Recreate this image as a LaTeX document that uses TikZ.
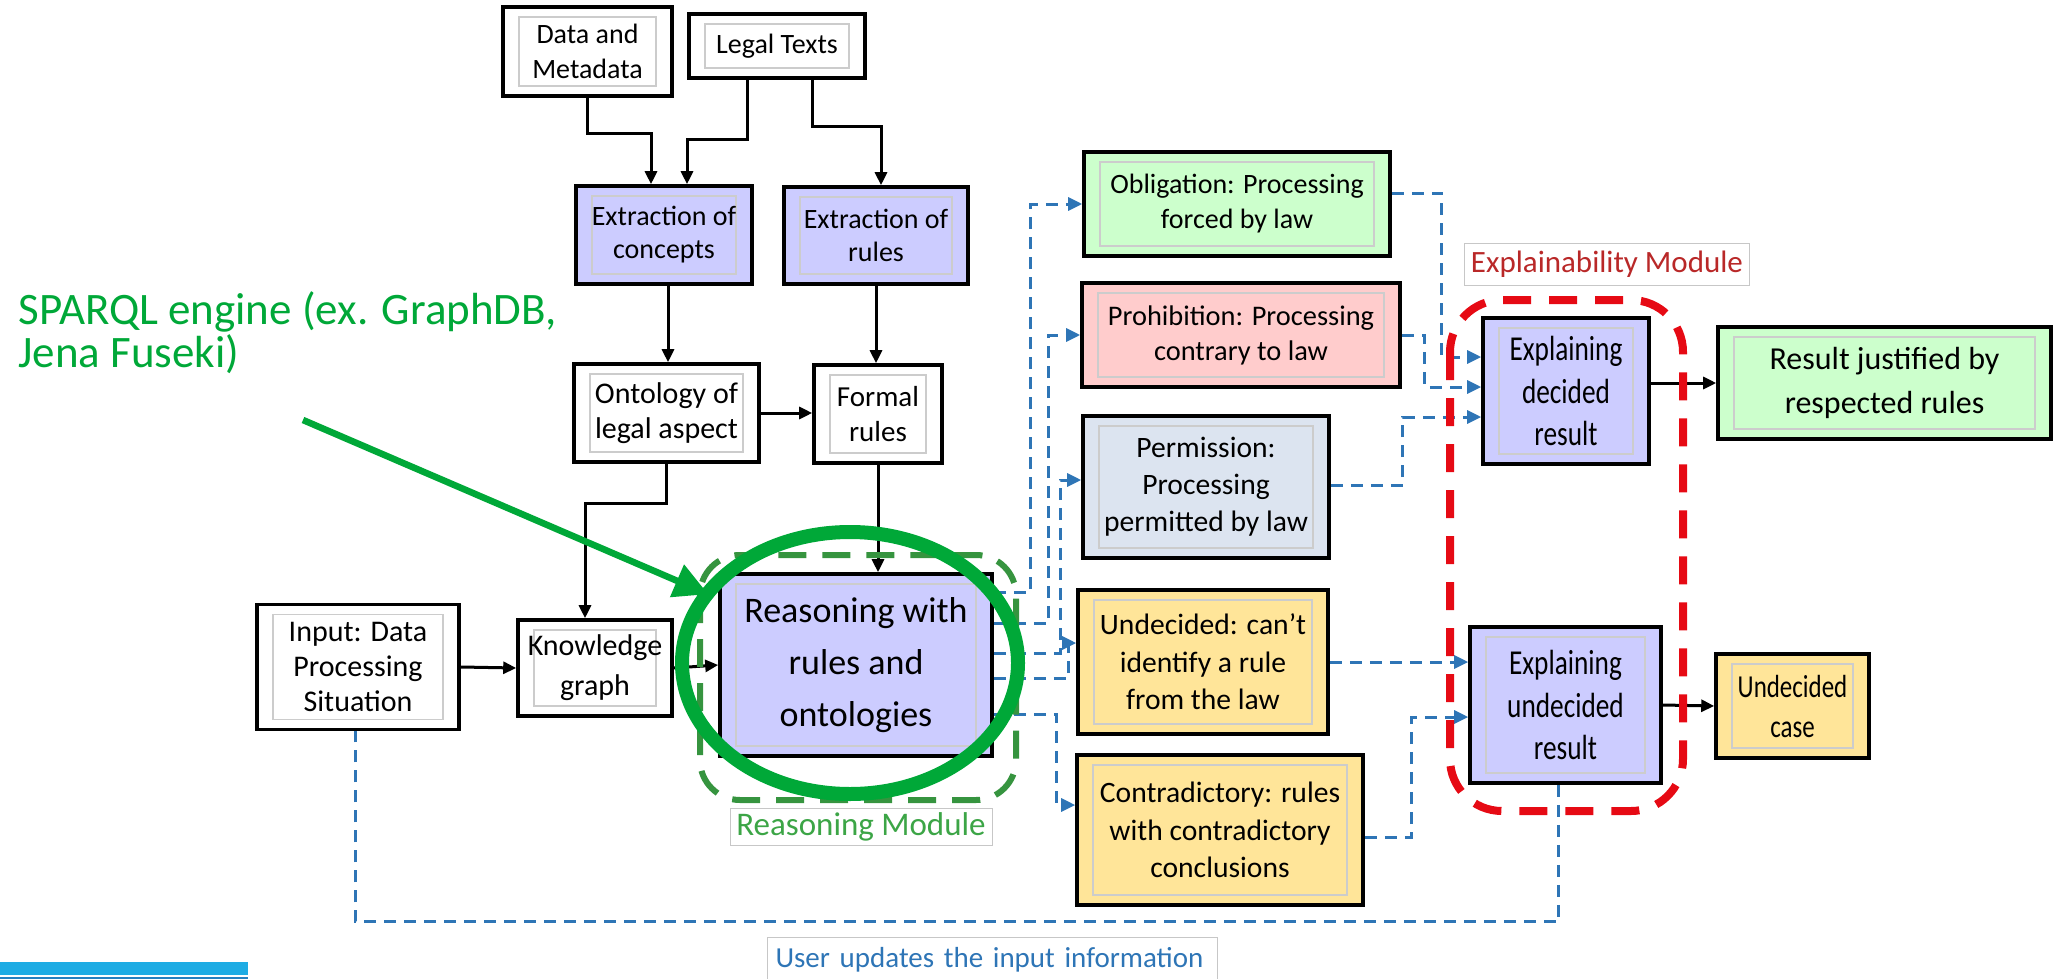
\documentclass[tikz,border=0pt]{standalone}
\usepackage{fontspec}
\setmainfont{Carlito}
\newfontfamily\condfont[FakeStretch=0.78]{Carlito}
\usetikzlibrary{arrows.meta}

\definecolor{lav}{RGB}{204,204,255}
\definecolor{mint}{RGB}{204,255,204}
\definecolor{rose}{RGB}{255,204,204}
\definecolor{steel}{RGB}{220,228,240}
\definecolor{sand}{RGB}{255,229,153}
\definecolor{flowblue}{RGB}{46,117,182}
\definecolor{markgreen}{RGB}{0,168,56}
\definecolor{modgreen}{RGB}{60,165,70}
\definecolor{modred}{RGB}{185,40,40}
\definecolor{hlred}{RGB}{230,10,20}
\definecolor{barblue}{RGB}{30,172,228}
\definecolor{bardark}{RGB}{38,128,192}

\tikzset{
  blk/.style={draw=black, line width=1.8pt, align=center, inner sep=0pt,
    font=\fontsize{14}{17.5}\selectfont,
    path picture={\draw[black!20, line width=0.6pt]
      ([shift={(8pt,-5pt)}]path picture bounding box.north west) rectangle
      ([shift={(-8pt,5pt)}]path picture bounding box.south east);}},
  sz/.style 2 args={minimum width=#1, minimum height=#2},
  fs/.style 2 args={font=\fontsize{#1}{#2}\selectfont},
  lbl/.style={draw=black!22, line width=0.5pt, inner sep=2pt},
  arr/.style={draw=black, line width=1.5pt, -{Triangle[length=6.5pt,width=6pt]}},
  flow/.style={draw=flowblue, line width=1.5pt, dash pattern=on 6pt off 4pt},
  flowarr/.style={flow, -{Triangle[length=7pt,width=6.5pt]}},
  explfont/.style={font=\condfont\fontsize{17.5}{21.3}\selectfont},
}

\begin{document}
\begin{tikzpicture}[x=0.5pt,y=-0.5pt]
\useasboundingbox (0,0) rectangle (2055,979);
\clip (0,0) rectangle (2055,979);

% ---- sources and extraction
\node[blk, sz={84.5pt}{44.5pt}] (data) at (587.5,51.5) {Data and\\Metadata};
\node[blk, sz={88pt}{32pt}] (legal) at (777,46) {Legal Texts};
\node[blk, fill=lav, sz={88pt}{49pt}, fs={14}{16.5}] (extc) at (664,235) {Extraction of\\concepts};
\node[blk, fill=lav, sz={92pt}{48.5pt}, fs={14}{16.5}] (extr) at (876,235.5) {Extraction of\\rules};
\node[blk, sz={92.5pt}{49pt}, fs={15}{17.5}] (onto) at (666.5,413) {Ontology of\\legal aspect};
\node[blk, sz={64pt}{49pt}, fs={14.5}{17.5}] (formal) at (878,414) {Formal\\rules};

% ---- input and reasoning
\node[blk, sz={101pt}{62.5pt}, fs={15}{17.5}] (input) at (358,667) {Input: Data\\Processing\\Situation};
\node[blk, sz={77pt}{48pt}, fs={15}{20}] (kg) at (595,668) {Knowledge\\graph};
\node[blk, fill=lav, sz={136pt}{91pt}, fs={18}{26}] (reason) at (856,665) {Reasoning with\\rules and\\ontologies};

% ---- outcomes of the reasoning
\node[blk, fill=mint, sz={153pt}{52pt}] (obl) at (1237,204) {Obligation: Processing\\forced by law};
\node[blk, fill=rose, sz={159pt}{52pt}, fs={14.2}{17.5}] (proh) at (1241,335) {Prohibition: Processing\\contrary to law};
\node[blk, fill=steel, sz={123pt}{71pt}, fs={14.8}{18.5}] (perm) at (1206,487) {Permission:\\Processing\\permitted by law};
\node[blk, fill=sand, sz={125pt}{72pt}, fs={14.8}{18.8}] (undec) at (1203,662) {Undecided: can’t\\identify a rule\\from the law};
\node[blk, fill=sand, sz={143pt}{75pt}, fs={14.8}{18.8}] (contra) at (1220,830) {Contradictory: rules\\with contradictory\\conclusions};

% ---- explanations and final results
\node[blk, fill=lav, sz={83pt}{73pt}, explfont] (expd) at (1566,391) {Explaining\\decided\\result};
\node[blk, fill=lav, sz={95.5pt}{78pt}, explfont] (expu) at (1565.5,705) {Explaining\\undecided\\result};
\node[blk, fill=mint, sz={166.5pt}{56pt}, fs={16}{22}] (resj) at (1884.5,383) {Result justified by\\respected rules};
\node[blk, fill=sand, sz={76.5pt}{52pt}, font=\condfont\fontsize{16}{20}\selectfont] (undcase) at (1792.5,706) {Undecided\\case};

% ---- module labels
\node[lbl, text=modred, fs={15.5}{18}, minimum width=142.5pt, minimum height=21pt] (expmod) at (1607,264) {Explainability Module};
\node[lbl, text=modgreen, fs={16.5}{18}, minimum width=131pt, minimum height=18pt] (reasmod) at (861,827) {Reasoning Module};
\node[lbl, anchor=north west, text=flowblue, fs={14.5}{17}, minimum height=22pt, text width=217pt, align=left, inner sep=4pt] (upd) at (767,937) {User updates the input information};

% ---- black flow
\draw[arr] (data.south) -- ++(0,36) -| ([xshift=-6.5pt]extc.north);
\draw[arr] ([xshift=-15pt]legal.south) -- ++(0,60) -| ([xshift=11.5pt]extc.north);
\draw[arr] ([xshift=17.5pt]legal.south) -- ++(0,47) -| ([xshift=2.5pt]extr.north);
\draw[arr] ([xshift=2pt]extc.south) -- ([xshift=2pt]extc.south |- onto.north);
\draw[arr] (extr.south) -- (extr.south |- formal.north);
\draw[arr] (onto.east) -- (onto.east -| formal.west);
\draw[arr] (onto.south) -- ++(0,40) -| ([xshift=-5pt]kg.north);
\draw[arr] (formal.south) -- (formal.south |- reason.north);
\draw[arr] (input.east) -- (kg.west);
\draw[arr] (kg.east) -- (reason.west);
\draw[arr] (resj.west -| expd.east) -- (resj.west);
\draw[arr] (expu.east) -- (undcase.west);

% ---- dashed flow out of the reasoning box
\draw[flowarr] ([yshift=36.5pt]reason.east) -- ++(37,0) |- (obl.west);
\draw[flowarr] ([yshift=21pt]reason.east) -- ++(55,0) |- (proh.west);
\draw[flowarr] ([yshift=6pt]reason.east) -- ++(67,0) |- ([yshift=3.5pt]perm.west);
\draw[flowarr] ([yshift=-6.5pt]reason.east) -- ++(75,0) |- ([yshift=9.5pt]undec.west);
\draw[flowarr] ([yshift=-24.5pt]reason.east) -- ++(63,0) |- ([yshift=12.5pt]contra.west);

% ---- dashed flow into the explanation boxes
\draw[flowarr] ([yshift=5.5pt]obl.east) -- ++(50,0) |- ([yshift=17pt]expd.west);
\draw[flowarr] (proh.east) -- ++(23,0) |- ([yshift=2pt]expd.west);
\draw[flowarr] ([yshift=1pt]perm.east) -- ++(72,0) |- ([yshift=-13pt]expd.west);
\draw[flowarr] (undec.east) -- (undec.east -| expu.west);
\draw[flowarr] ([yshift=-3.5pt]contra.east) -- ++(47,0) |- ([yshift=-6pt]expu.west);

% ---- feedback loop to the input
\draw[flow] ([xshift=-3.5pt]expu.south) -- ++(0,137) -| ([xshift=-1.5pt]input.south);

% ---- module frames
\draw[modgreen!90!black, line width=3pt, dash pattern=on 14pt off 8pt, rounded corners=20pt]
  (700,555) rectangle (1016,800);
\draw[hlred, line width=4pt, dash pattern=on 14pt off 9pt, rounded corners=26pt]
  (1450,300) rectangle (1683,811);

% ---- highlight and annotation
\draw[markgreen, line width=7pt] (850,663) ellipse [x radius=84pt, y radius=65.5pt];
\node[anchor=west, align=left, text=markgreen, fs={22.5}{21.5}, inner sep=0pt] (sparql) at (18,333) {SPARQL engine (ex. GraphDB,\\Jena Fuseki)};
\coordinate (gtail) at (303,420);
\draw[markgreen, line width=3.3pt, -{Triangle[length=17pt,width=17pt]}] (gtail) -- ([shift={(-5pt,-11pt)}]reason.north west);

% ---- corner bar
\fill[barblue] (0,962) rectangle (248,975);
\fill[bardark] (0,976.5) rectangle (248,979);
\end{tikzpicture}
\end{document}
